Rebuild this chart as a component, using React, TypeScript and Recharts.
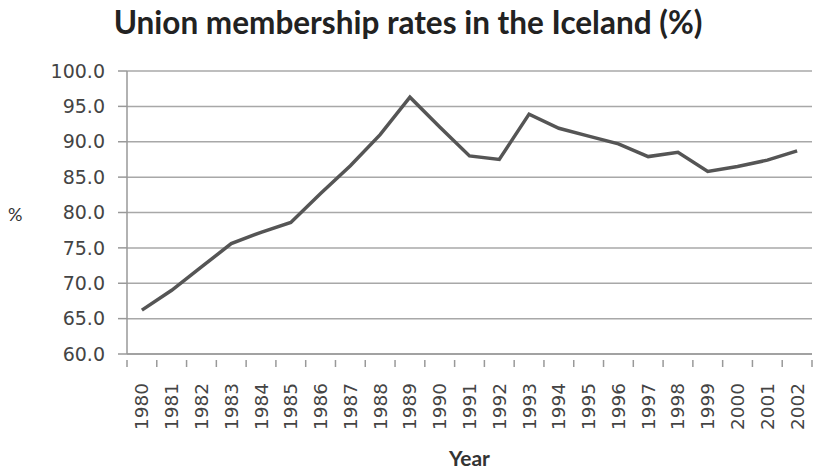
import React from "react";
import { CartesianGrid, Line, LineChart, XAxis, YAxis } from "recharts";

const years = [
  "1980", "1981", "1982", "1983", "1984", "1985", "1986", "1987", "1988", "1989", "1990", "1991",
  "1992", "1993", "1994", "1995", "1996", "1997", "1998", "1999", "2000", "2001", "2002",
];
const rates = [
  66.2, 69.0, 72.3, 75.6, 77.2, 78.6, 82.7, 86.6, 91.0, 96.3, 92.1, 88.0,
  87.5, 93.9, 91.9, 90.8, 89.7, 87.9, 88.5, 85.8, 86.5, 87.4, 88.7,
];
const yTicks = [60, 65, 70, 75, 80, 85, 90, 95, 100];

const data = years.map((y, i) => ({ year: y, rate: rates[i] }));

const PLOT_LEFT = 127;
const PLOT_RIGHT = 812;
const BAND = (PLOT_RIGHT - PLOT_LEFT) / years.length;

function YearTick(props: any) {
  const { x, y, payload, index } = props;
  const last = index === years.length - 1;
  const top = y - 2;
  return (
    <g>
      <line x1={x - BAND / 2} x2={x - BAND / 2} y1={top} y2={top + 7} stroke="#999" strokeWidth={1.5} />
      {last && (
        <line x1={x + BAND / 2} x2={x + BAND / 2} y1={top} y2={top + 7} stroke="#999" strokeWidth={1.5} />
      )}
      <text
        x={x}
        y={top + 23}
        transform={`rotate(-90, ${x}, ${top + 23})`}
        textAnchor="end"
        dominantBaseline="central"
        fontSize={18.5}
        fontFamily="DejaVu Sans"
        fill="#444"
      >
        {payload.value}
      </text>
    </g>
  );
}

export default function App() {
  return (
    <div style={{ position: "absolute", left: 0, top: 0, width: 816, height: 473, background: "#fff" }}>
      <div
        style={{
          position: "absolute",
          left: 0,
          width: 816,
          top: 3,
          textAlign: "center",
          fontFamily: "Lato",
          fontWeight: 700,
          fontSize: 31.5,
          color: "#222",
          whiteSpace: "nowrap",
        }}
      >
        Union membership rates in the Iceland (%)
      </div>
      <div
        style={{
          position: "absolute",
          left: 8,
          top: 203,
          fontFamily: "Lato",
          fontSize: 18,
          color: "#333",
        }}
      >
        %
      </div>
      <div
        style={{
          position: "absolute",
          left: PLOT_LEFT,
          width: PLOT_RIGHT - PLOT_LEFT,
          top: 445,
          textAlign: "center",
          fontFamily: "Lato",
          fontWeight: 700,
          fontSize: 21,
          color: "#333",
        }}
      >
        Year
      </div>
      <LineChart
        width={816}
        height={473}
        data={data}
        margin={{ top: 71, right: 816 - PLOT_RIGHT, bottom: 39, left: 0 }}
        style={{ position: "absolute", left: 0, top: 0 }}
      >
        <CartesianGrid vertical={false} stroke="#a8a8a8" strokeWidth={1.5} />
        <XAxis
          dataKey="year"
          height={80}
          interval={0}
          padding={{ left: BAND / 2, right: BAND / 2 }}
          stroke="#999"
          strokeWidth={1.5}
          tickLine={false}
          tick={<YearTick />}
        />
        <YAxis
          width={PLOT_LEFT}
          domain={[60, 100]}
          ticks={yTicks}
          stroke="#999"
          strokeWidth={1.5}
          tickSize={9}
          tickMargin={13}
          tickFormatter={(v) => v.toFixed(1)}
          tick={{ fontSize: 19, fontFamily: "DejaVu Sans", fill: "#444" }}
        />
        <Line
          type="linear"
          dataKey="rate"
          stroke="#555"
          strokeWidth={3.5}
          dot={false}
          isAnimationActive={false}
        />
      </LineChart>
    </div>
  );
}
